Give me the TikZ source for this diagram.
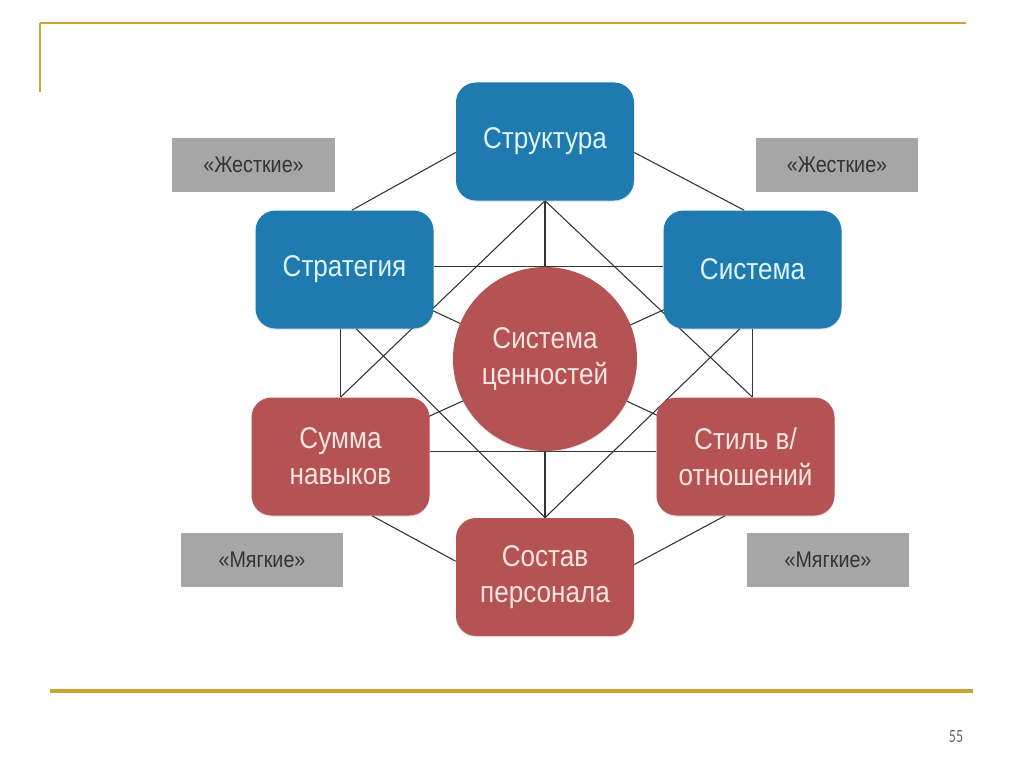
\documentclass[tikz,border=0pt]{standalone}
\usepackage{fontspec}
\setmainfont{Liberation Sans}
\newfontfamily\boxfont[FakeStretch=0.87]{Liberation Sans}
\newfontfamily\pagefont[FakeStretch=0.75]{Carlito}
\usetikzlibrary{shapes,positioning,shadows,backgrounds}

\definecolor{hardblue}{RGB}{31,122,176}
\definecolor{softred}{RGB}{180,82,84}
\definecolor{taggray}{RGB}{166,166,166}
\definecolor{slidegold}{RGB}{204,164,48}
\definecolor{bluetext}{RGB}{222,244,252}
\definecolor{redtext}{RGB}{250,228,224}

\tikzset{
  basic/.style = {inner sep=0pt, align=center, minimum width=133.5pt, minimum height=88.5pt,
                  font=\boxfont\fontsize{22.5}{27}\selectfont,
                  drop shadow={opacity=0.2, shadow xshift=0pt, shadow yshift=-1pt}},
  hard/.style  = {basic, rectangle, rounded corners=15pt, fill=hardblue, text=bluetext},
  soft/.style  = {basic, rectangle, rounded corners=15pt, fill=softred, text=redtext},
  core/.style  = {basic, circle, minimum size=138pt, fill=softred, text=redtext},
  tag/.style   = {rectangle, inner sep=0pt, minimum width=122pt, minimum height=40.5pt,
                  fill=taggray, text=black!80, font=\boxfont\fontsize{17}{20}\selectfont},
  link/.style  = {draw=black!80, line width=0.8pt},
  rule/.style  = {draw=slidegold, line width=2.2pt}
}

\begin{document}
\begin{tikzpicture}[x=0.75pt, y=-0.75pt]
  \useasboundingbox (0,0) rectangle (1024,767);

  % slide frame
  \draw[rule] (40,23) -- (966,23);
  \draw[rule, line width=1.5pt] (40,23) -- (40,92);
  \draw[rule, line width=3pt] (50,691) -- (973,691);
  \node[font=\pagefont\fontsize{14}{16}\selectfont, text=black!60] (page) at (956,737) {55};

  % the seven elements
  \node[hard] (str)   at (545,141.5) {Структура};
  \node[hard] (strat) at (344.5,269.5) {Стратегия};
  \node[hard] (sys)   at (752.5,269.5) {Система};
  \node[core] (val)   at (545,359) {Система\\ценностей};
  \node[soft] (sum)   at (340.5,456.5) {Сумма\\навыков};
  \node[soft] (stil)  at (745.5,456.5) {Стиль в/\\отношений};
  \node[soft] (sost)  at (545,577) {Состав\\персонала};

  % hard / soft labels
  \node[tag] (hardl) at (253.5,165) {«Жесткие»};
  \node[tag] (hardr) at (837,165) {«Жесткие»};
  \node[tag] (softl) at (262,560) {«Мягкие»};
  \node[tag] (softr) at (828,560) {«Мягкие»};

  % free ends of the straight links
  \coordinate (lcol) at (sum.north |- strat.south);
  \coordinate (rcol) at (sys.south |- stil.north);
  \coordinate (topl) at (strat.east |- val.north);
  \coordinate (topr) at (sys.west |- val.north);
  \coordinate (botl) at (sum.east |- val.south);
  \coordinate (botr) at (stil.west |- val.south);

  % every element linked to every other one, behind the boxes
  \begin{scope}[on background layer]
    \foreach \from/\to in {str.187/strat.83, str.353/sys.98, sum.298/sost.170, stil.251/sost.8}
      \draw[link] (\from) -- (\to);
    \foreach \from/\to in {sum.north/lcol, sys.south/rcol, topl/topr, botl/botr}
      \draw[link] (\from) -- (\to);
    \foreach \to in {sost.north, sum.north, rcol}
      \draw[link] (str.south) -- (\to);
    \foreach \to in {strat.281, sys.258}
      \draw[link] (sost.north) -- (\to);
    \draw[link] (strat.center) -- (stil.center);
    \draw[link] (sys.center) -- (sum.center);
  \end{scope}
\end{tikzpicture}
\end{document}
